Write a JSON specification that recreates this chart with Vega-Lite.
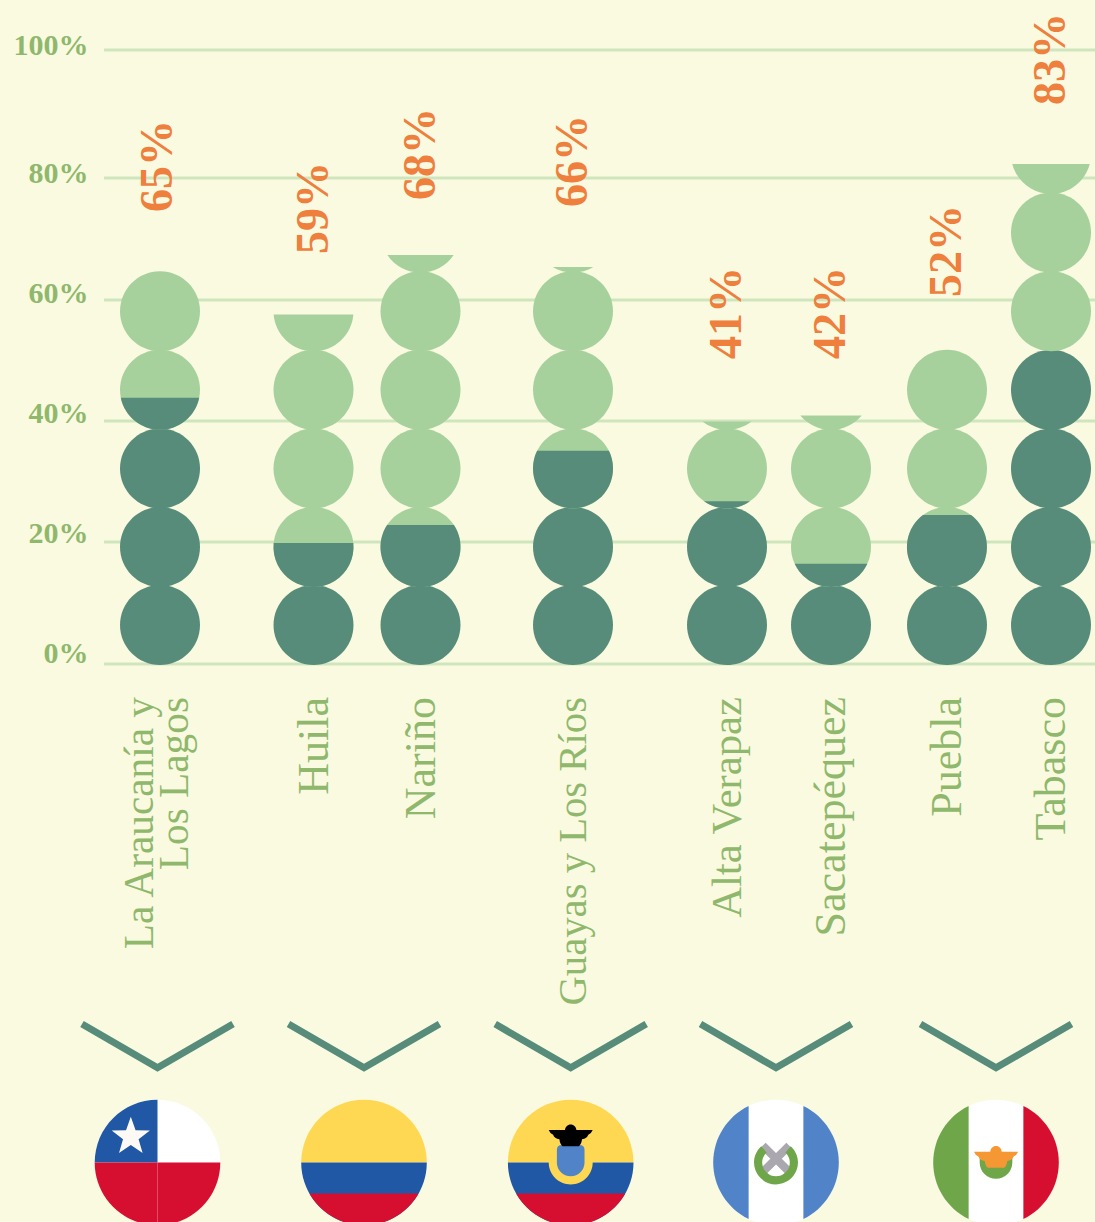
{
"$schema":"https://vega.github.io/schema/vega-lite/v6.json",
"width":991,"height":614,
"autosize":"none",
"padding":{"left":104,"top":50,"right":0,"bottom":558},
"background":"#fafae1",
"config":{"view":{"stroke":null}},
"datasets":{
"ticks":[{"tick":0},{"tick":20},{"tick":40},{"tick":60},{"tick":80},{"tick":100}],
"regions":[
{"region":["La Araucanía y","Los Lagos"],"pos":1.58,"namePos":1.41,"share":65,"label":"65%","labelAt":75.33},
{"region":"Huila","pos":3.135,"namePos":3.145,"share":59,"label":"59%","labelAt":68.33},
{"region":"Nariño","pos":4.205,"namePos":4.215,"share":68,"label":"68%","labelAt":77.33},
{"region":"Guayas y Los Ríos","pos":5.73,"namePos":5.74,"share":66,"label":"66%","labelAt":76.17},
{"region":"Alta Verapaz","pos":7.27,"namePos":7.28,"share":41,"label":"41%","labelAt":50.83},
{"region":"Sacatepéquez","pos":8.31,"namePos":8.32,"share":42,"label":"42%","labelAt":50.83},
{"region":"Puebla","pos":9.47,"namePos":9.48,"share":52,"label":"52%","labelAt":61.17},
{"region":"Tabasco","pos":10.51,"namePos":10.52,"share":83,"label":"83%","labelAt":93.17}
],
"circles":[
{"pos":1.6,"level":6.5,"group":"dark","fillShare":"full"},
{"pos":1.6,"level":19.5,"group":"dark","fillShare":"full"},
{"pos":1.6,"level":32.6,"group":"dark","fillShare":"full"},
{"pos":1.6,"level":45.7,"group":"light","fillShare":"full"},
{"pos":1.6,"level":45.7,"group":"dark","fillShare":"f40"},
{"pos":1.6,"level":58.8,"group":"light","fillShare":"full"},
{"pos":3.135,"level":6.5,"group":"dark","fillShare":"full"},
{"pos":3.135,"level":19.5,"group":"light","fillShare":"full"},
{"pos":3.135,"level":19.5,"group":"dark","fillShare":"f55"},
{"pos":3.135,"level":32.6,"group":"light","fillShare":"full"},
{"pos":3.135,"level":45.7,"group":"light","fillShare":"full"},
{"pos":3.135,"level":58.8,"group":"light","fillShare":"f46"},
{"pos":4.205,"level":6.5,"group":"dark","fillShare":"full"},
{"pos":4.205,"level":19.5,"group":"light","fillShare":"full"},
{"pos":4.205,"level":19.5,"group":"dark","fillShare":"f78"},
{"pos":4.205,"level":32.6,"group":"light","fillShare":"full"},
{"pos":4.205,"level":45.7,"group":"light","fillShare":"full"},
{"pos":4.205,"level":58.8,"group":"light","fillShare":"full"},
{"pos":4.205,"level":71.9,"group":"light","fillShare":"f22"},
{"pos":5.73,"level":6.5,"group":"dark","fillShare":"full"},
{"pos":5.73,"level":19.5,"group":"dark","fillShare":"full"},
{"pos":5.73,"level":32.6,"group":"light","fillShare":"full"},
{"pos":5.73,"level":32.6,"group":"dark","fillShare":"f72"},
{"pos":5.73,"level":45.7,"group":"light","fillShare":"full"},
{"pos":5.73,"level":58.8,"group":"light","fillShare":"full"},
{"pos":5.73,"level":71.9,"group":"light","fillShare":"f07"},
{"pos":7.27,"level":6.5,"group":"dark","fillShare":"full"},
{"pos":7.27,"level":19.5,"group":"dark","fillShare":"full"},
{"pos":7.27,"level":32.6,"group":"light","fillShare":"full"},
{"pos":7.27,"level":32.6,"group":"dark","fillShare":"f09"},
{"pos":7.27,"level":45.7,"group":"light","fillShare":"f11"},
{"pos":8.31,"level":6.5,"group":"dark","fillShare":"full"},
{"pos":8.31,"level":19.5,"group":"light","fillShare":"full"},
{"pos":8.31,"level":19.5,"group":"dark","fillShare":"f29"},
{"pos":8.31,"level":32.6,"group":"light","fillShare":"full"},
{"pos":8.31,"level":45.7,"group":"light","fillShare":"f18"},
{"pos":9.47,"level":6.5,"group":"dark","fillShare":"full"},
{"pos":9.47,"level":19.5,"group":"light","fillShare":"full"},
{"pos":9.47,"level":19.5,"group":"dark","fillShare":"f90"},
{"pos":9.47,"level":32.6,"group":"light","fillShare":"full"},
{"pos":9.47,"level":45.7,"group":"light","fillShare":"full"},
{"pos":10.51,"level":6.5,"group":"dark","fillShare":"full"},
{"pos":10.51,"level":19.5,"group":"dark","fillShare":"full"},
{"pos":10.51,"level":32.6,"group":"dark","fillShare":"full"},
{"pos":10.51,"level":45.7,"group":"dark","fillShare":"full"},
{"pos":10.51,"level":58.8,"group":"light","fillShare":"full"},
{"pos":10.51,"level":71.9,"group":"light","fillShare":"full"},
{"pos":10.51,"level":85,"group":"light","fillShare":"f38"}
],
"chevrons":[
{"country":"Chile","pos":0.82,"level":-60},{"country":"Chile","pos":1.575,"level":-67.3},{"country":"Chile","pos":2.33,"level":-60},
{"country":"Colombia","pos":2.885,"level":-60},{"country":"Colombia","pos":3.64,"level":-67.3},{"country":"Colombia","pos":4.395,"level":-60},
{"country":"Ecuador","pos":4.952,"level":-60},{"country":"Ecuador","pos":5.707,"level":-67.3},{"country":"Ecuador","pos":6.462,"level":-60},
{"country":"Guatemala","pos":7.005,"level":-60},{"country":"Guatemala","pos":7.76,"level":-67.3},{"country":"Guatemala","pos":8.515,"level":-60},
{"country":"México","pos":9.205,"level":-60},{"country":"México","pos":9.96,"level":-67.3},{"country":"México","pos":10.715,"level":-60}
],
"flags":[
{"country":"Chile","pos":1.575,"level":-83.08,"part":"disc-white"},
{"country":"Chile","pos":1.575,"level":-83.08,"part":"chile-blue"},
{"country":"Chile","pos":1.575,"level":-83.08,"part":"chile-red-left"},
{"country":"Chile","pos":1.575,"level":-83.08,"part":"chile-red-right"},
{"country":"Chile","pos":1.575,"level":-83.08,"part":"chile-star"},
{"country":"Colombia","pos":3.64,"level":-83.08,"part":"band-yellow"},
{"country":"Colombia","pos":3.64,"level":-83.08,"part":"band-blue"},
{"country":"Colombia","pos":3.64,"level":-83.08,"part":"band-red"},
{"country":"Ecuador","pos":5.707,"level":-83.08,"part":"band-yellow"},
{"country":"Ecuador","pos":5.707,"level":-83.08,"part":"band-blue"},
{"country":"Ecuador","pos":5.707,"level":-83.08,"part":"band-red"},
{"country":"Ecuador","pos":5.707,"level":-83.08,"part":"ecuador-ring"},
{"country":"Ecuador","pos":5.707,"level":-83.08,"part":"ecuador-shield"},
{"country":"Ecuador","pos":5.707,"level":-83.08,"part":"ecuador-condor"},
{"country":"Guatemala","pos":7.76,"level":-83.08,"part":"disc-white"},
{"country":"Guatemala","pos":7.76,"level":-83.08,"part":"guate-left"},
{"country":"Guatemala","pos":7.76,"level":-83.08,"part":"guate-right"},
{"country":"Guatemala","pos":7.76,"level":-83.08,"part":"guate-rifles"},
{"country":"Guatemala","pos":7.76,"level":-83.08,"part":"guate-wreath"},
{"country":"México","pos":9.96,"level":-83.08,"part":"disc-white"},
{"country":"México","pos":9.96,"level":-83.08,"part":"mexico-left"},
{"country":"México","pos":9.96,"level":-83.08,"part":"mexico-right"},
{"country":"México","pos":9.96,"level":-83.08,"part":"mexico-wreath"},
{"country":"México","pos":9.96,"level":-83.08,"part":"mexico-eagle"}
]
},
"resolve":{"scale":{"y":"independent","color":"independent","shape":"independent"}},
"layer":[
{"data":{"name":"ticks"},
 "mark":{"type":"rule","color":"#cfe5bd","strokeWidth":3},
 "encoding":{"y":{"field":"tick","type":"quantitative",
   "scale":{"domain":[0,20,40,60,80,100],"range":[614,492,371,250,128,0]},
   "axis":{"values":[0,20,40,60,80,100],"title":null,"domain":false,"ticks":false,"grid":false,
     "labelExpr":"datum.value+'%'","labelFont":"Liberation Serif","labelFontWeight":"bold","labelFontSize":30,"labelColor":"#8fb86d","labelPadding":16,"labelOffset":{"expr":"datum.value==0?-11:datum.value==20?-9:datum.value==40?-8:datum.value==60?-7:datum.value==80?-5:-5"},"labelFlush":false,"labelOverlap":false}}}},
{"data":{"name":"circles"},
 "mark":{"type":"point","filled":true,"size":6400,"opacity":1,"strokeWidth":0},
 "encoding":{
  "x":{"field":"pos","type":"quantitative","scale":{"domain":[1.04,10.95]},"axis":null},
  "y":{"field":"level","type":"quantitative","scale":{"domain":[0,102.333]},"axis":null},
  "color":{"field":"group","type":"nominal","legend":null,"scale":{"domain":["dark","light"],"range":["#578c7a","#a6d19c"]}},
  "shape":{"field":"fillShare","type":"nominal","legend":null,"scale":{
   "domain":["full","f40","f55","f46","f78","f22","f72","f07","f09","f11","f29","f18","f90","f38"],
   "range":[
    "M-1,0A1,1 0 1 0 1,0A1,1 0 1 0 -1,0Z",
    "M-0.98,0.2A1,1 0 0 0 0.98,0.2Z",
    "M-0.995,-0.1A1,1 0 1 0 0.995,-0.1Z",
    "M-0.9968,0.08A1,1 0 0 0 0.9968,0.08Z",
    "M-0.835,-0.55A1,1 0 1 0 0.835,-0.55Z",
    "M-0.8285,0.56A1,1 0 0 0 0.8285,0.56Z",
    "M-0.898,-0.44A1,1 0 1 0 0.898,-0.44Z",
    "M-0.51,0.86A1,1 0 0 0 0.51,0.86Z",
    "M-0.572,0.82A1,1 0 0 0 0.572,0.82Z",
    "M-0.613,0.79A1,1 0 0 0 0.613,0.79Z",
    "M-0.9075,0.42A1,1 0 0 0 0.9075,0.42Z",
    "M-0.768,0.64A1,1 0 0 0 0.768,0.64Z",
    "M-0.6,-0.8A1,1 0 1 0 0.6,-0.8Z",
    "M-0.968,0.25A1,1 0 0 0 0.968,0.25Z"
   ]}}
 }},
{"data":{"name":"regions"},
 "mark":{"type":"text","font":"Liberation Serif","fontWeight":"bold","fontSize":46,"color":"#ee7f3d","angle":270,"align":"left","baseline":"middle"},
 "encoding":{
  "x":{"field":"pos","type":"quantitative","scale":{"domain":[1.04,10.95]},"axis":null},
  "y":{"field":"labelAt","type":"quantitative","scale":{"domain":[0,102.333]},"axis":null},
  "text":{"field":"label"}
 }},
{"data":{"name":"regions"},
 "mark":{"type":"text","font":"Liberation Serif","lineHeight":35,"color":"#8fb86d","angle":270,"align":"right","baseline":"middle"},
 "encoding":{
  "x":{"field":"namePos","type":"quantitative","scale":{"domain":[1.04,10.95]},"axis":null},
  "y":{"datum":-5.5,"scale":{"domain":[0,102.333]},"axis":null},
  "size":{"condition":[{"test":"datum.share==66","value":40.7},{"test":"datum.share==65","value":41.3},{"test":"datum.share==41","value":42.7}],"value":44},
  "text":{"field":"region"}
 }},
{"data":{"name":"chevrons"},
 "mark":{"type":"line","color":"#578c7a","strokeWidth":7,"strokeJoin":"miter","strokeCap":"butt"},
 "encoding":{
  "x":{"field":"pos","type":"quantitative","scale":{"domain":[1.04,10.95]},"axis":null},
  "y":{"field":"level","type":"quantitative","scale":{"domain":[0,102.333]},"axis":null},
  "detail":{"field":"country"}
 }},
{"data":{"name":"flags"},
 "mark":{"type":"point","filled":true,"size":15775,"opacity":1,"strokeWidth":0},
 "encoding":{
  "x":{"field":"pos","type":"quantitative","scale":{"domain":[1.04,10.95]},"axis":null},
  "y":{"field":"level","type":"quantitative","scale":{"domain":[0,102.333]},"axis":null},
  "color":{"field":"part","type":"nominal","legend":null,"scale":{
   "domain":["disc-white","chile-blue","chile-red-left","chile-red-right","chile-star","band-yellow","band-blue","band-red","ecuador-ring","ecuador-shield","ecuador-condor","guate-left","guate-right","guate-rifles","guate-wreath","mexico-left","mexico-right","mexico-wreath","mexico-eagle"],
   "range":["#ffffff","#2058a6","#d60e30","#d60e30","#fdfaf5","#ffd853","#2058a6","#d60e30","#ffd853","#5083c7","#000000","#5083c7","#5083c7","#aaa8ae","#6fa64a","#6fa64a","#d60e30","#6fa64a","#f59733"]}},
  "shape":{"field":"part","type":"nominal","legend":null,"scale":{
   "domain":["disc-white","chile-blue","chile-red-left","chile-red-right","chile-star","band-yellow","band-blue","band-red","ecuador-ring","ecuador-shield","ecuador-condor","guate-left","guate-right","guate-rifles","guate-wreath","mexico-left","mexico-right","mexico-wreath","mexico-eagle"],
   "range":[
    "M-1,0A1,1 0 1 0 1,0A1,1 0 1 0 -1,0Z",
    "M0,0L-1,0A1,1 0 0 1 0,-1Z",
    "M0,0L-1,0A1,1 0 0 0 0,1Z",
    "M0,0L0,1A1,1 0 0 0 1,0Z",
    "M-0.425,-0.73L-0.349,-0.515L-0.121,-0.509L-0.301,-0.37L-0.237,-0.151L-0.425,-0.28L-0.613,-0.151L-0.549,-0.37L-0.729,-0.509L-0.501,-0.515Z",
    "M-1,0A1,1 0 0 1 1,0Z",
    "M-1,0A1,1 0 0 0 1,0Z",
    "M-0.869,0.495A1,1 0 0 0 0.869,0.495Z",
    "M-0.35,-0.05H0.35V0A0.35,0.35 0 0 1 -0.35,0Z",
    "M-0.22,-0.2Q-0.22,-0.28 -0.14,-0.28H0.14Q0.22,-0.28 0.22,-0.2V0A0.22,0.22 0 0 1 -0.22,0Z",
    "M-0.35,-0.516H-0.09A0.09,0.09 0 0 1 0.09,-0.516H0.35Q0.33,-0.46 0.28,-0.44Q0.26,-0.38 0.18,-0.37Q0.17,-0.29 0.13,-0.26H-0.13Q-0.17,-0.29 -0.18,-0.37Q-0.26,-0.38 -0.28,-0.44Q-0.33,-0.46 -0.35,-0.516Z",
    "M-0.436,-0.9A1,1 0 0 0 -0.436,0.9Z",
    "M0.436,-0.9A1,1 0 0 1 0.436,0.9Z",
    "M-0.256,-0.224L-0.164,-0.316L0.256,0.104L0.164,0.196ZM0.256,-0.224L-0.164,0.196L-0.256,0.104L0.164,-0.316Z",
    "M-0.235,-0.26A0.35,0.35 0 1 0 0.235,-0.26L0.15,-0.16A0.22,0.22 0 1 1 -0.15,-0.16Z",
    "M-0.436,-0.9A1,1 0 0 0 -0.436,0.9Z",
    "M0.436,-0.9A1,1 0 0 1 0.436,0.9Z",
    "M-0.26,-0.1H0.26V0A0.26,0.26 0 0 1 -0.26,0Z",
    "M-0.35,-0.171H-0.09A0.09,0.09 0 0 1 0.09,-0.171H0.35Q0.33,-0.115 0.28,-0.095Q0.26,-0.035 0.18,-0.025Q0.17,0.055 0.13,0.085H-0.13Q-0.17,0.055 -0.18,-0.025Q-0.26,-0.035 -0.28,-0.095Q-0.33,-0.115 -0.35,-0.171Z"
   ]}}
 }}
]
}
